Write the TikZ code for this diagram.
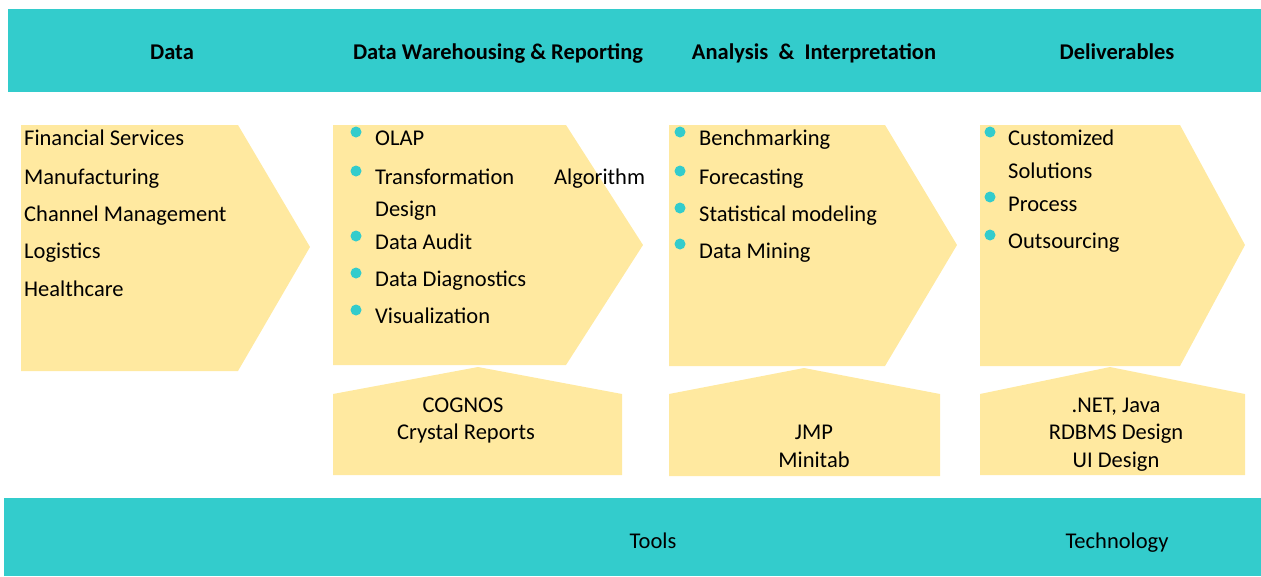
\documentclass[tikz,border=0pt]{standalone}
\usepackage{fontspec}
\setmainfont{Carlito}
\usepackage{tikz}
\definecolor{bandteal}{HTML}{33CCCC}
\definecolor{boxyellow}{HTML}{FFE9A0}

\begin{document}
\begin{tikzpicture}[x=1pt,y=-1pt,
    band/.style={fill=bandteal},
    panel/.style={fill=boxyellow},
    head/.style={font=\fontsize{22.5}{26}\selectfont\bfseries,anchor=base,inner sep=0},
    item/.style={font=\fontsize{22.5}{26}\selectfont,anchor=base west,inner sep=0},
    tool/.style={font=\fontsize{22.5}{26}\selectfont,anchor=base,inner sep=0},
    dot/.style={fill=bandteal}]
        \useasboundingbox (0,0) rectangle (1261,576);
        \fill[band] (8,9) rectangle (1261,92);
        \fill[band] (4,498) rectangle (1261,576);
        \node[head] (hdata) at (172,59) {Data};
        \node[head] (hware) at (498,59) {Data Warehousing \& Reporting};
        \node[head] (hanal) at (814,59) {Analysis\ \ \&\ \ Interpretation};
        \node[head] (hdeli) at (1117,59) {Deliverables};
        % chevrons
        \fill[panel] (21,125) -- (238,125) -- (310,247) -- (238,371) -- (21,371) -- cycle;
        \fill[panel] (333,125) -- (566,125) -- (643,245) -- (566,365) -- (333,365) -- cycle;
        \fill[panel] (669,125) -- (885,125) -- (957,245) -- (885,366) -- (669,366) -- cycle;
        \fill[panel] (980,125) -- (1180,125) -- (1245,245) -- (1180,366) -- (980,366) -- cycle;
        % houses
        \fill[panel] (333,394) -- (478,367) -- (622,394) -- (622,475) -- (333,475) -- cycle;
        \fill[panel] (669,394) -- (804,368) -- (940,394) -- (940,476) -- (669,476) -- cycle;
        \fill[panel] (980,394) -- (1110,367) -- (1245,394) -- (1245,475) -- (980,475) -- cycle;
        % data
        \node[item] (fin) at (24,145) {Financial Services};
        \node[item] (man) at (24,184) {Manufacturing};
        \node[item] (chan) at (24,221) {Channel Management};
        \node[item] (logi) at (24,258) {Logistics};
        \node[item] (heal) at (24,296) {Healthcare};
        % warehousing
        \fill[dot] (356,132) circle (5.5);
        \node[item] (olap) at (375,145) {OLAP};
        \fill[dot] (356,171) circle (5.5);
        \node[item] (trans) at (375,184) {Transformation};
        \node[item] (algo) at (554,184) {Algorithm};
        \node[item] (desg) at (375,216) {Design};
        \fill[dot] (356,236) circle (5.5);
        \node[item] (audit) at (375,249) {Data Audit};
        \fill[dot] (356,273) circle (5.5);
        \node[item] (diag) at (375,286) {Data Diagnostics};
        \fill[dot] (356,310) circle (5.5);
        \node[item] (visu) at (375,323) {Visualization};
        % analysis
        \fill[dot] (680,132) circle (5.5);
        \node[item] (bench) at (699,145) {Benchmarking};
        \fill[dot] (680,171) circle (5.5);
        \node[item] (fore) at (699,184) {Forecasting};
        \fill[dot] (680,208) circle (5.5);
        \node[item] (stat) at (699,221) {Statistical modeling};
        \fill[dot] (680,244) circle (5.5);
        \node[item] (mine) at (699,258) {Data Mining};
        % deliverables
        \fill[dot] (990,132) circle (5.5);
        \node[item] (cust) at (1008,145) {Customized};
        \node[item] (solu) at (1008,178) {Solutions};
        \fill[dot] (990,197) circle (5.5);
        \node[item] (proc) at (1008,211) {Process};
        \fill[dot] (990,235) circle (5.5);
        \node[item] (outs) at (1008,248) {Outsourcing};
        % tools
        \node[tool] (cog) at (463,412) {COGNOS};
        \node[tool] (crys) at (466,439) {Crystal Reports};
        \node[tool] (jmp) at (814,439) {JMP};
        \node[tool] (mini) at (814,467) {Minitab};
        \node[tool] (net) at (1116,412) {.NET, Java};
        \node[tool] (rdb) at (1116,439) {RDBMS Design};
        \node[tool] (uid) at (1116,467) {UI Design};
        \node[tool] (tools) at (653,548) {Tools};
        \node[tool] (tech) at (1117,548) {Technology};
    \end{tikzpicture}
\end{document}
